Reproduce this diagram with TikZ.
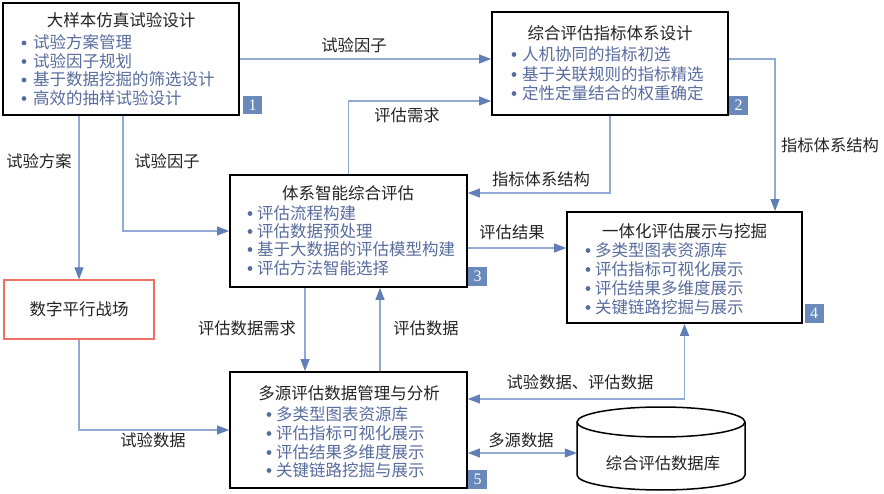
\documentclass[tikz,border=0pt]{standalone}
\usepackage{fontspec}
\setmainfont{Liberation Serif}
\newfontfamily\cjk{Noto Sans CJK SC}
\usetikzlibrary{arrows.meta}
\definecolor{linec}{RGB}{145,170,212}
\definecolor{arrowc}{RGB}{95,127,182}
\definecolor{itemc}{RGB}{88,108,158}
\definecolor{badgec}{RGB}{105,137,187}
\definecolor{redc}{RGB}{238,112,98}
\definecolor{txtc}{RGB}{35,35,35}
\begin{document}
\begin{tikzpicture}[x=1pt,y=-1pt,
  box/.style={draw=black,line width=1.8pt,fill=white,rectangle,inner sep=0pt},
  ttl/.style={font=\cjk\fontsize{16.5}{18}\selectfont,text=txtc,inner sep=0pt},
  itm/.style={font=\cjk\fontsize{16.5}{18}\selectfont,text=itemc,inner sep=0pt,anchor=west},
  lbl/.style={font=\cjk\fontsize{16.3}{18}\selectfont,text=txtc,inner sep=0pt},
  badge/.style={fill=badgec,text=white,font=\fontsize{16}{17}\selectfont,inner sep=0pt,minimum width=19pt,minimum height=18.5pt},
  bul/.style={fill=itemc},
  arr/.style={draw=linec,line width=1.1pt,-{Triangle[length=12pt,width=9pt,color=arrowc]}},
  dbl/.style={draw=linec,line width=1.1pt,{Triangle[length=12pt,width=9pt,color=arrowc]}-{Triangle[length=12pt,width=9pt,color=arrowc]}}
]
\useasboundingbox (0,0) rectangle (884,494);
\fill[white] (0,0) rectangle (884,494);

% boxes
\node[box,minimum width=236pt,minimum height=112pt] (b1) at (121,59) {};
\node[box,minimum width=236pt,minimum height=103pt] (b2) at (610,63.5) {};
\node[box,minimum width=237pt,minimum height=112pt] (b3) at (348.5,231) {};
\node[box,minimum width=235pt,minimum height=111pt] (b4) at (684.5,267.5) {};
\node[box,minimum width=237pt,minimum height=116pt] (b5) at (348.5,430) {};
\node[draw=redc,line width=1.2pt,fill=white,minimum width=150pt,minimum height=59pt,inner sep=0pt,font=\cjk\fontsize{16.5}{18}\selectfont,text=txtc] (dp) at (79,309.5) {数字平行战场};

% database cylinder
\node[minimum width=168pt,minimum height=83pt,inner sep=0pt] (db) at (661,448.5) {};
\draw[line width=1.5pt,fill=white] (577,422) -- (577,475) arc[start angle=180,end angle=360,x radius=84pt,y radius=15pt] -- (745,422);
\draw[line width=1.5pt,fill=white] (661,422) ellipse [x radius=84pt,y radius=15pt];
\node[lbl] (dbt) at (663,463) {综合评估数据库};

% box 1
\node[ttl] (t1) at (121,20) {大样本仿真试验设计};
\node[itm] (i11) at (33,42.5) {试验方案管理};
\node[itm] (i12) at (33,61) {试验因子规划};
\node[itm] (i13) at (33,79.5) {基于数据挖掘的筛选设计};
\node[itm] (i14) at (33,98) {高效的抽样试验设计};
\foreach \y in {43,61.5,80,98.5} \fill[bul] (24,\y) circle (2.4pt);
\node[badge] (n1) at (252.5,105) {1};

% box 2
\node[ttl] (t2) at (610,33) {综合评估指标体系设计};
\node[itm] (i21) at (522,54) {人机协同的指标初选};
\node[itm] (i22) at (522,74) {基于关联规则的指标精选};
\node[itm] (i23) at (522,93) {定性定量结合的权重确定};
\foreach \y in {54.5,74.5,93.5} \fill[bul] (514,\y) circle (2.4pt);
\node[badge] (n2) at (738.5,105.5) {2};

% box 3
\node[ttl] (t3) at (348,193) {体系智能综合评估};
\node[itm] (i31) at (257,213) {评估流程构建};
\node[itm] (i32) at (257,231) {评估数据预处理};
\node[itm] (i33) at (257,249) {基于大数据的评估模型构建};
\node[itm] (i34) at (257,268) {评估方法智能选择};
\foreach \y in {213.5,231.5,249.5,268.5} \fill[bul] (250,\y) circle (2.4pt);
\node[badge] (n3) at (477.5,276.5) {3};

% box 4
\node[ttl] (t4) at (684.5,231) {一体化评估展示与挖掘};
\node[itm] (i41) at (595,250) {多类型图表资源库};
\node[itm] (i42) at (595,269) {评估指标可视化展示};
\node[itm] (i43) at (595,288) {评估结果多维度展示};
\node[itm] (i44) at (595,307) {关键链路挖掘与展示};
\foreach \y in {250.5,269.5,288.5,307.5} \fill[bul] (588,\y) circle (2.4pt);
\node[badge] (n4) at (814,313.5) {4};

% box 5
\node[ttl] (t5) at (349,393) {多源评估数据管理与分析};
\node[itm] (i51) at (276,414) {多类型图表资源库};
\node[itm] (i52) at (276,433) {评估指标可视化展示};
\node[itm] (i53) at (276,452) {评估结果多维度展示};
\node[itm] (i54) at (276,470) {关键链路挖掘与展示};
\foreach \y in {414.5,433.5,452.5,470.5} \fill[bul] (269,\y) circle (2.4pt);
\node[badge] (n5) at (477.5,479.5) {5};

% helper coordinates
\coordinate (c1) at (0,101);
\coordinate (c2) at (0,193);
\coordinate (c3) at (775,59);
\coordinate (c4) at (0,248);
\coordinate (c5) at (305,0);
\coordinate (c6) at (380,0);
\coordinate (c7) at (0,399);
\coordinate (c8) at (0,453);
\coordinate (c9) at (123,0);

% connectors
\draw[arr] (b1.east) -- (b2.west |- b1.east);
\draw[arr] (b1.south -| dp.north) -- (dp.north);
\draw[arr] (b1.south -| c9) -- (c9 |- b3.west) -- (b3.west);
\draw[arr] (b3.north) -- (b3.north |- c1) -- (b2.west |- c1);
\draw[arr] (b2.south) -- (b2.south |- c2) -- (b3.east |- c2);
\draw[arr] (b2.east |- c3) -- (c3) -- (c3 |- b4.north);
\draw[arr] (b3.east |- c4) -- (b4.west |- c4);
\draw[arr] (b3.south -| c5) -- (b5.north -| c5);
\draw[arr] (b5.north -| c6) -- (b3.south -| c6);
\draw[dbl] (b4.south) -- (b4.south |- c7) -- (b5.east |- c7);
\draw[arr] (dp.south) -- (dp.south |- b5.west) -- (b5.west);
\draw[dbl] (b5.east |- c8) -- (db.west |- c8);

% labels
\node[lbl] (l1) at (354,45) {试验因子};
\node[lbl] (l2) at (39,161) {试验方案};
\node[lbl] (l3) at (167,161) {试验因子};
\node[lbl] (l4) at (407,115) {评估需求};
\node[lbl] (l5) at (541,179) {指标体系结构};
\node[lbl] (l6) at (830,145) {指标体系结构};
\node[lbl] (l7) at (512,232) {评估结果};
\node[lbl] (l8) at (247,328) {评估数据需求};
\node[lbl] (l9) at (426,328) {评估数据};
\node[lbl] (l10) at (580,382) {试验数据、评估数据};
\node[lbl] (l11) at (153,440) {试验数据};
\node[lbl] (l12) at (521,440) {多源数据};
\end{tikzpicture}
\end{document}
